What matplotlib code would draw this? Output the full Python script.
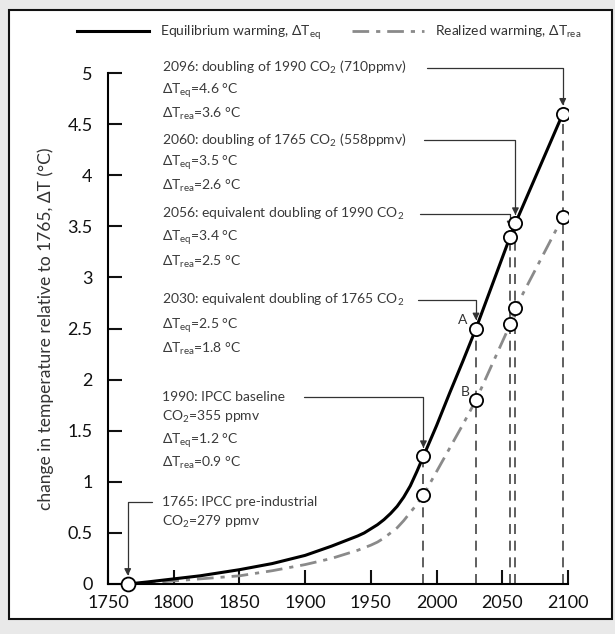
import numpy as np
import matplotlib
matplotlib.use("Agg")
import matplotlib.pyplot as plt
from matplotlib.patches import Rectangle

plt.rcParams['font.family'] = ['Lato', 'DejaVu Sans']
plt.rcParams['mathtext.fontset'] = 'custom'
plt.rcParams['mathtext.rm'] = 'Lato'
plt.rcParams['mathtext.it'] = 'Lato:italic'
plt.rcParams['mathtext.bf'] = 'Lato:bold'

# curves
years = [1765, 1780, 1800, 1820, 1850, 1875, 1900, 1920, 1930, 1940, 1945, 1950,
         1955, 1960, 1965, 1970, 1975, 1980, 1985, 1990, 2000, 2010, 2020, 2030,
         2056, 2060, 2096]
t_eq = [0, 0.02, 0.05, 0.08, 0.14, 0.2, 0.28, 0.37, 0.42, 0.47, 0.5, 0.54,
        0.58, 0.63, 0.69, 0.76, 0.85, 0.96, 1.1, 1.25, 1.55, 1.87, 2.18, 2.5,
        3.4, 3.53, 4.6]
t_rea = [0, 0.01, 0.03, 0.05, 0.08, 0.13, 0.19, 0.25, 0.29, 0.33, 0.355, 0.38,
         0.41, 0.45, 0.5, 0.55, 0.62, 0.7, 0.78, 0.87, 1.1, 1.33, 1.56, 1.8,
         2.54, 2.7, 3.59]

# marked milestones
mark_years = [1990, 2030, 2056, 2060, 2096]
mark_eq = [1.25, 2.5, 3.4, 3.53, 4.6]
mark_rea = [0.87, 1.8, 2.54, 2.7, 3.59]

blocks = [
    ["2096: doubling of 1990 CO$_2$ (710ppmv)", "ΔT$_\\mathrm{eq}$=4.6 °C", "ΔT$_\\mathrm{rea}$=3.6 °C"],
    ["2060: doubling of 1765 CO$_2$ (558ppmv)", "ΔT$_\\mathrm{eq}$=3.5 °C", "ΔT$_\\mathrm{rea}$=2.6 °C"],
    ["2056: equivalent doubling of 1990 CO$_2$", "ΔT$_\\mathrm{eq}$=3.4 °C", "ΔT$_\\mathrm{rea}$=2.5 °C"],
    ["2030: equivalent doubling of 1765 CO$_2$", "ΔT$_\\mathrm{eq}$=2.5 °C", "ΔT$_\\mathrm{rea}$=1.8 °C"],
    ["1990: IPCC baseline", "CO$_2$=355 ppmv", "ΔT$_\\mathrm{eq}$=1.2 °C", "ΔT$_\\mathrm{rea}$=0.9 °C"],
    ["1765: IPCC pre-industrial", "CO$_2$=279 ppmv"],
]
block_tops = [5.05, 4.34, 3.62, 2.78, 1.83, 0.80]
block_steps = [[0, 0.22, 0.45], [0, 0.22, 0.45], [0, 0.23, 0.47], [0, 0.25, 0.48],
               [0, 0.2, 0.43, 0.65], [0, 0.19]]
leader_start = [1992.7, 1990.4, 1987.4, 1985.9, 1899.5, 1783.5]
leader_target = [(2096, 4.6), (2060, 3.53), (2056, 3.4), (2030, 2.5), (1990, 1.25), (1765, 0)]

fig = plt.figure(figsize=(6.15, 6.34), dpi=100, facecolor='#e9e9e9')
fig.patches.append(Rectangle((9 / 615, 1 - 619 / 634), 603 / 615, 609 / 634,
                             transform=fig.transFigure, facecolor='white',
                             edgecolor='#111111', lw=1.5, zorder=-10))

ax = fig.add_axes([108 / 615, 1 - 584 / 634, 460 / 615, 511 / 634])
ax.patch.set_alpha(0)

# vertical dashed drop lines
ax.vlines(mark_years, 0, mark_eq, colors='#444444', linestyles=(0, (6, 4)), lw=1.2, zorder=1)

l_eq, = ax.plot(years, t_eq, color='black', lw=2.2, zorder=3,
                label='Equilibrium warming, ΔT$_\\mathrm{eq}$')
l_rea, = ax.plot(years, t_rea, color='#8a8a8a', lw=2.0, zorder=2,
                 label='Realized warming, ΔT$_\\mathrm{rea}$')
l_rea.set_dashes((6, 2.5, 1.5, 2.5))

ax.plot(mark_years, mark_eq, 'o', ms=9.5, mfc='white', mec='black', mew=1.3, zorder=5)
ax.plot(mark_years, mark_rea, 'o', ms=9.5, mfc='white', mec='black', mew=1.3, zorder=5)
ax.plot([years[0]], [t_eq[0]], 'o', ms=10, mfc='white', mec='black', mew=1.3,
        zorder=5, clip_on=False)

# text blocks and leaders
for lines, top, steps in zip(blocks, block_tops, block_steps):
    for txt, st in zip(lines, steps):
        ax.text(1791, top - st, txt, fontsize=10, color='#3a3a3a', va='center',
                ha='left', clip_on=False)

for xs, (tx, ty), top in zip(leader_start, leader_target, block_tops):
    ax.annotate('', xy=(tx, ty), xytext=(xs, top),
                arrowprops=dict(arrowstyle='-|>', color='#333333', lw=0.9,
                                mutation_scale=10, shrinkA=0, shrinkB=6,
                                connectionstyle='angle,angleA=0,angleB=90,rad=0'),
                annotation_clip=False)

ax.text(2020, 2.58, 'A', fontsize=10, color='#333333', ha='center', va='center')
ax.text(2022, 1.88, 'B', fontsize=10, color='#333333', ha='center', va='center')

ax.set_xlim(1750, 2100)
ax.set_ylim(0, 5)
ax.set_xticks(range(1750, 2101, 50))
ax.set_yticks(np.arange(0, 5.01, 0.5))
ax.set_yticklabels(['0', '0.5', '1', '1.5', '2', '2.5', '3', '3.5', '4', '4.5', '5'])
for s in ['top', 'right']:
    ax.spines[s].set_visible(False)
for s in ['left', 'bottom']:
    ax.spines[s].set_linewidth(1.5)
ax.tick_params(axis='both', direction='in', length=10, width=1.5, labelsize=13,
               colors='#111111')
ax.tick_params(axis='x', pad=8)
ax.tick_params(axis='y', pad=11)
ax.set_ylabel('change in temperature relative to 1765, ΔT (°C)', fontsize=12.5,
              color='#333333', labelpad=10)

fig.legend(handles=[l_eq, l_rea], loc='center', bbox_to_anchor=(0.535, 1 - 33 / 634),
           ncol=2, frameon=False, fontsize=10, handlelength=5.2, columnspacing=2.2,
           labelcolor='#333333')

fig.savefig('out.png', dpi=100, facecolor=fig.get_facecolor())
